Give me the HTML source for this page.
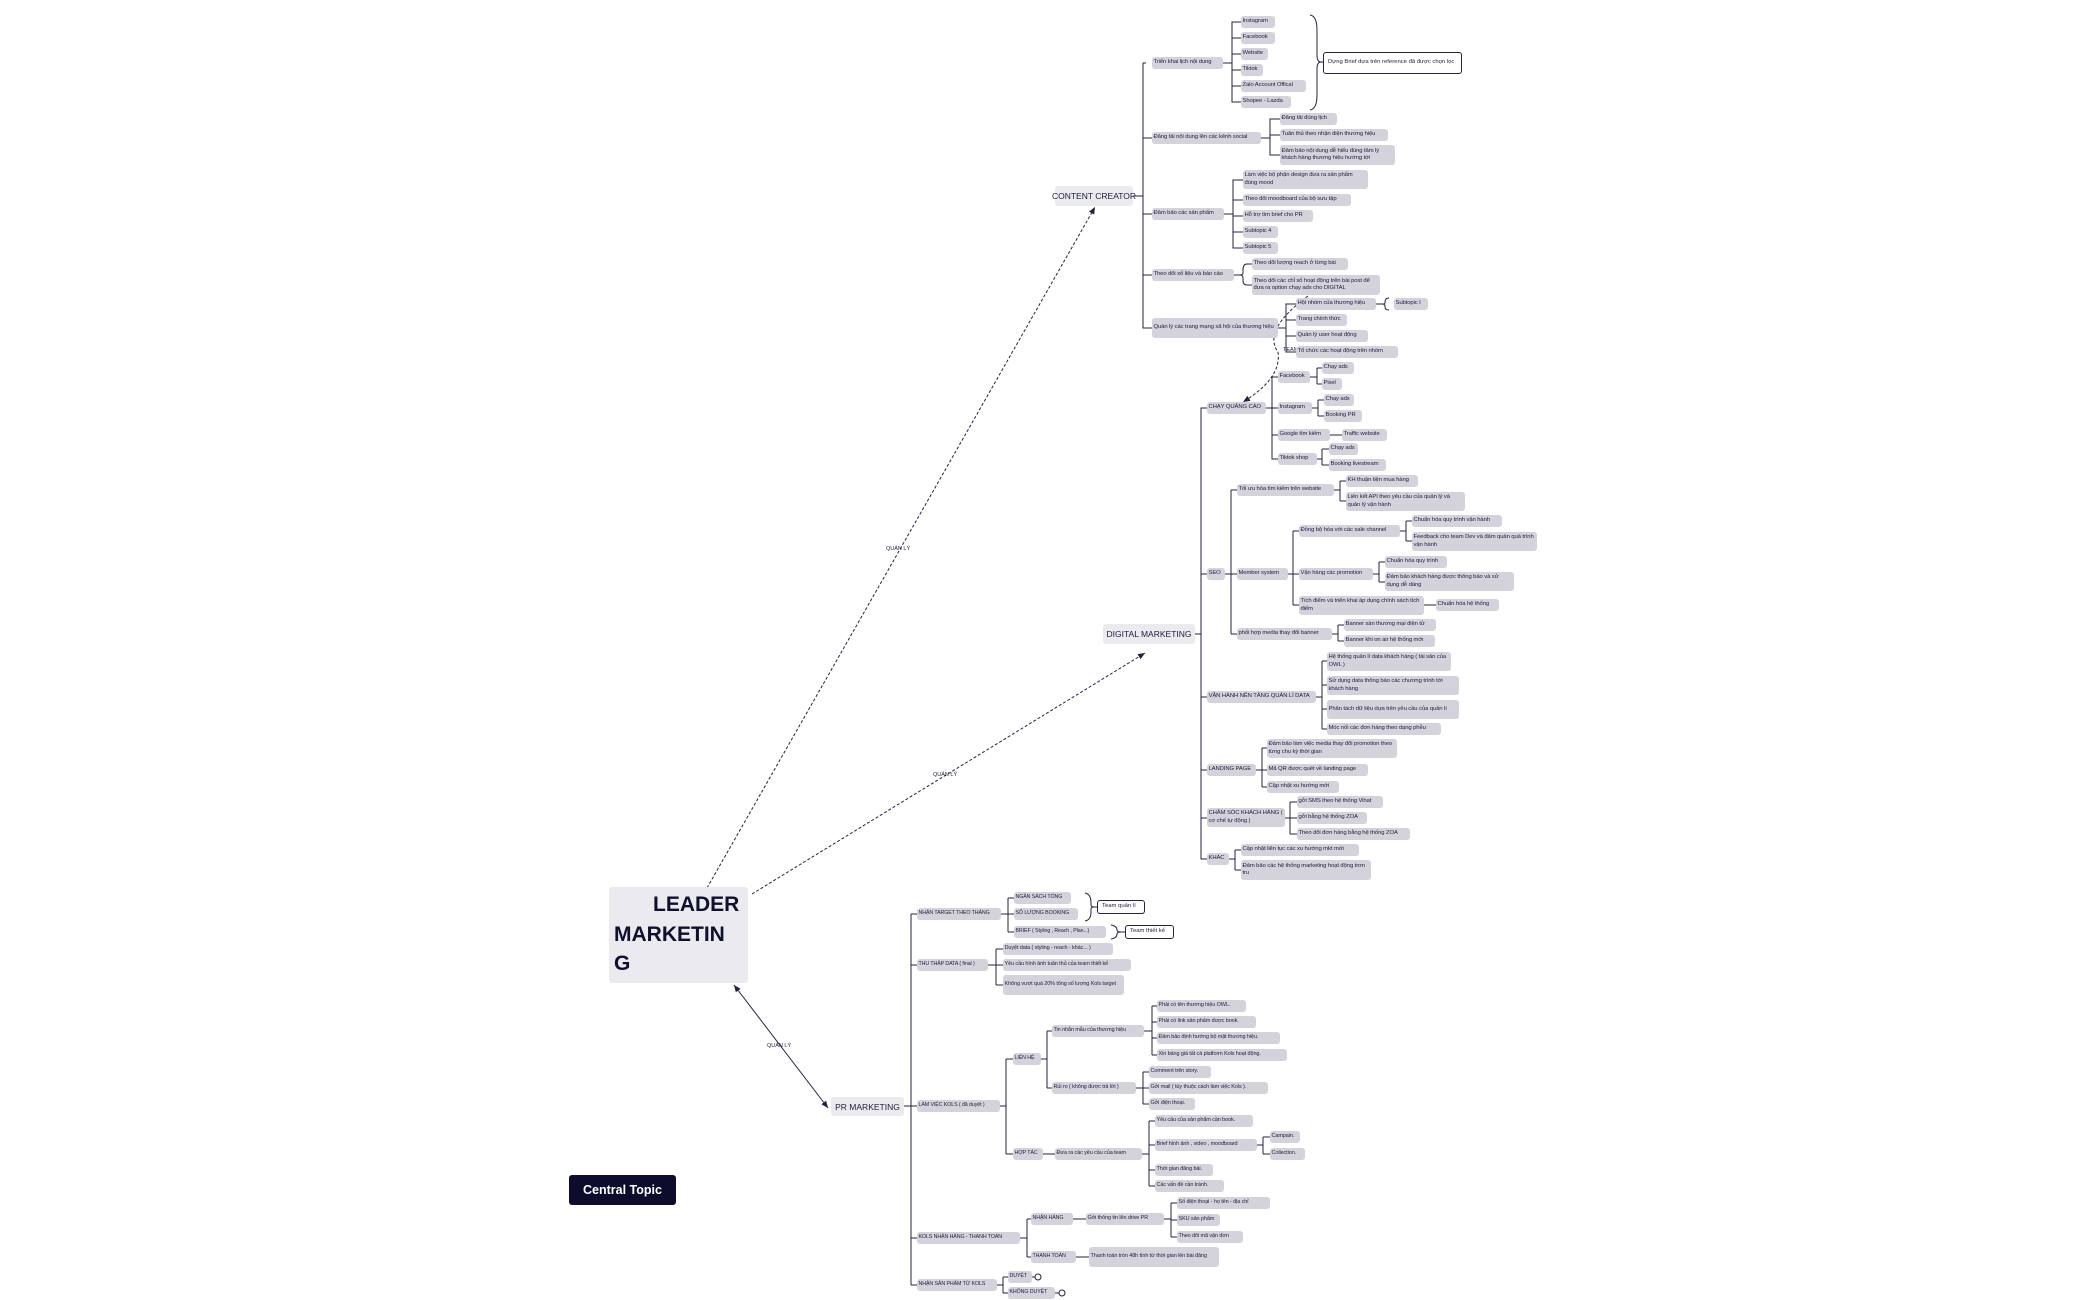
<!DOCTYPE html>
<html><head><meta charset="utf-8">
<style>
html,body{margin:0;padding:0;background:#fff;}
body{width:2100px;height:1300px;position:relative;overflow:hidden;font-family:"Liberation Sans","Noto Sans CJK SC",sans-serif;}
.n{position:absolute;background:#d4d3dc;border-radius:3px;font-size:5.9px;letter-spacing:-0.1px;line-height:7.5px;color:#1d1d3f;padding:0 1.5px;display:flex;align-items:center;white-space:nowrap;box-sizing:border-box;}
.w{white-space:normal;}
.b{position:absolute;background:#fff;border:1px solid #23233f;border-radius:3px;font-size:5.9px;line-height:7.5px;color:#1d1d3f;padding:0 4px;display:flex;align-items:center;box-sizing:border-box;}
.m{position:absolute;background:#ebeaee;border-radius:3px;font-size:8.5px;color:#1d1d3f;display:flex;align-items:center;justify-content:center;white-space:nowrap;}
.l{position:absolute;font-size:5.5px;color:#1d1d3f;white-space:nowrap;}
svg{position:absolute;left:0;top:0;}
</style></head><body>
<svg width="2100" height="1300" fill="none" stroke="#23233f" stroke-width="1">
<defs><marker id="ar" markerWidth="8" markerHeight="8" refX="7" refY="4" orient="auto-start-reverse"><path d="M0,1 L7,4 L0,7 z" fill="#23233f" stroke="none"/></marker></defs>
<path d="M707,888 L1095,207" stroke-dasharray="3,2" marker-end="url(#ar)"/>
<path d="M752,894 L1145,653" stroke-dasharray="3,2" marker-end="url(#ar)"/>
<path d="M734,985 L828,1108" marker-start="url(#ar)" marker-end="url(#ar)"/>
<path d="M1308,296 Q1262,330 1278,352 Q1282,378 1243,402" stroke-dasharray="3,2" marker-end="url(#ar)"/>
<path d="M1133,196H1143M1146,63H1143V328H1146M1143,138H1152M1143,214H1152M1143,275H1152M1143,328H1152"/>
<path d="M1223,63H1232M1235,22H1232V102H1235M1232,22H1241M1232,38H1241M1232,54H1241M1232,70H1241M1232,86H1241M1232,102H1241"/>
<path d="M1310,15 Q1317,16 1317,30 V55 Q1317,62 1321,62 Q1317,62 1317,69 V95 Q1317,109 1310,110 M1321,62H1323"/>
<path d="M1261,138H1270M1273,119H1270V155H1273M1270,119H1280M1270,135H1280M1270,155H1280"/>
<path d="M1224,214H1233M1236,180H1233V248H1236M1233,180H1243M1233,200H1243M1233,216H1243M1233,232H1243M1233,248H1243"/>
<path d="M1234,275H1240M1247,264Q1243,264 1243,270V273Q1243,275 1240,275Q1243,275 1243,278V281Q1243,285 1247,285M1247,264H1252M1247,285H1252"/>
<path d="M1278,328H1286M1289,304H1286V352H1289M1286,304H1296M1286,320H1296M1286,336H1296M1286,352H1296"/>
<path d="M1376,304H1382M1389,298Q1385,298 1385,302V303Q1385,304 1382,304Q1385,304 1385,306V307Q1385,310 1389,310"/>
<path d="M1195,634H1201M1204,408H1201V859H1204M1201,574H1207M1201,697H1207M1201,770H1207M1201,818H1207M1201,859H1207M1201,408H1207"/>
<path d="M1266,408H1272M1275,377H1272V459H1275M1272,377H1278M1272,408H1278M1272,435H1278M1272,459H1278"/>
<path d="M1310,377H1317M1317,368V384M1317,368H1322M1317,384H1322"/>
<path d="M1312,408H1318M1318,400V416M1318,400H1324M1318,416H1324"/>
<path d="M1330,435H1342"/>
<path d="M1317,459H1322M1322,449V465M1322,449H1329M1322,465H1329"/>
<path d="M1225,574H1231M1231,490V634M1231,490H1237M1231,574H1237M1231,634H1237"/>
<path d="M1334,490H1340M1340,481V501M1340,481H1346M1340,501H1346"/>
<path d="M1288,574H1293M1293,531V605M1293,531H1299M1293,574H1299M1293,605H1299"/>
<path d="M1400,531H1406M1406,521V541M1406,521H1412M1406,541H1412"/>
<path d="M1373,574H1379M1379,562V582M1379,562H1385M1379,582H1385"/>
<path d="M1424,605H1436"/>
<path d="M1332,634H1338M1338,625V641M1338,625H1344M1338,641H1344"/>
<path d="M1316,697H1322M1322,661V729M1322,661H1327M1322,685H1327M1322,709H1327M1322,729H1327"/>
<path d="M1256,770H1262M1262,748V787M1262,748H1267M1262,770H1267M1262,787H1267"/>
<path d="M1285,818H1290M1290,802V834M1290,802H1297M1290,818H1297M1290,834H1297"/>
<path d="M1229,859H1235M1235,850V870M1235,850H1241M1235,870H1241"/>
<path d="M904,1106H911M911,914V1285M911,914H917M911,965H917M911,1106H917M911,1238H917M911,1285H917"/>
<path d="M1001,914H1008M1008,898V932M1008,898H1014M1008,914H1014M1008,932H1014"/>
<path d="M1085,893Q1091,894 1091,903V905Q1091,907 1094,907Q1091,907 1091,909V912Q1091,920 1085,921M1094,907H1097"/>
<path d="M1111,925Q1117,926 1117,930Q1117,932 1121,932Q1117,932 1117,934Q1117,938 1111,939M1121,932H1125"/>
<path d="M988,965H996M996,949V985M996,949H1003M996,965H1003M996,985H1003"/>
<path d="M1000,1106H1006M1006,1059V1154M1006,1059H1013M1006,1154H1013"/>
<path d="M1041,1059H1047M1047,1031V1088M1047,1031H1052M1047,1088H1052"/>
<path d="M1144,1031H1152M1152,1006V1055M1152,1006H1157M1152,1022H1157M1152,1038H1157M1152,1055H1157"/>
<path d="M1136,1088H1143M1143,1072V1104M1143,1072H1149M1143,1088H1149M1143,1104H1149"/>
<path d="M1043,1154H1055M1142,1154H1149M1149,1121V1186M1149,1121H1155M1149,1145H1155M1149,1170H1155M1149,1186H1155"/>
<path d="M1257,1145H1263M1263,1137V1154M1263,1137H1270M1263,1154H1270"/>
<path d="M1020,1238H1027M1027,1219V1257M1027,1219H1031M1027,1257H1031"/>
<path d="M1073,1219H1086M1164,1219H1171M1171,1203V1237M1171,1203H1177M1171,1220H1177M1171,1237H1177"/>
<path d="M1076,1257H1089"/>
<path d="M997,1285H1003M1003,1277V1293M1003,1277H1008M1003,1293H1008"/>
<path d="M1032,1277H1035M1055,1293H1059"/>
<circle cx="1038" cy="1277" r="3"/><circle cx="1062" cy="1293" r="3"/>
</svg>

<div style="position:absolute;left:609px;top:887px;width:139px;height:96px;background:#ebeaee;border-radius:3px;"></div>
<div style="position:absolute;left:653px;top:894px;font:bold 21px/1 'Liberation Sans',sans-serif;color:#0f0f2e;">LEADER</div>
<div style="position:absolute;left:614px;top:924px;font:bold 21px/1 'Liberation Sans',sans-serif;color:#0f0f2e;">MARKETIN</div>
<div style="position:absolute;left:614px;top:953px;font:bold 21px/1 'Liberation Sans',sans-serif;color:#0f0f2e;">G</div>
<div style="position:absolute;left:569px;top:1175px;width:107px;height:30px;background:#0c0c2c;border-radius:3px;color:#fff;font:bold 12.5px/30px 'Liberation Sans',sans-serif;text-align:center;">Central Topic</div>
<div class="l" style="left:886px;top:546px">QUẢN LÝ</div>
<div class="l" style="left:933px;top:772px">QUẢN LÝ</div>
<div class="l" style="left:767px;top:1043px">QUẢN LÝ</div>
<div class="l" style="left:1283px;top:347px">TEAMWORK</div>

<div class="m" style="left:1055px;top:186px;width:78px;height:20px">CONTENT CREATOR</div>
<div class="n" style="left:1152px;top:57px;width:71px;height:12px">Triển khai lịch nội dung</div>
<div class="n" style="left:1152px;top:132px;width:109px;height:12px">Đăng tải nội dung lên các kênh social</div>
<div class="n" style="left:1152px;top:208px;width:72px;height:12px">Đảm bảo các sản phẩm</div>
<div class="n" style="left:1152px;top:269px;width:82px;height:12px">Theo dõi số liệu và báo cáo</div>
<div class="n w" style="left:1152px;top:318px;width:126px;height:20px">Quản lý các trang mạng xã hội của thương hiệu</div>
<div class="n" style="left:1241px;top:16px;width:34px;height:12px">Instagram</div>
<div class="n" style="left:1241px;top:32px;width:34px;height:12px">Facebook</div>
<div class="n" style="left:1241px;top:48px;width:27px;height:12px">Website</div>
<div class="n" style="left:1241px;top:64px;width:22px;height:12px">Tiktok</div>
<div class="n" style="left:1241px;top:80px;width:65px;height:12px">Zalo Account Offical</div>
<div class="n" style="left:1241px;top:96px;width:50px;height:12px">Shopee - Lazda</div>
<div class="b w" style="left:1323px;top:52px;width:139px;height:22px">Dựng Brief dựa trên reference đã được chọn lọc</div>
<div class="n" style="left:1280px;top:113px;width:57px;height:12px">Đăng tải đúng lịch</div>
<div class="n" style="left:1280px;top:129px;width:108px;height:12px">Tuân thủ theo nhận diện thương hiệu</div>
<div class="n w" style="left:1280px;top:145px;width:115px;height:20px">Đảm bảo nội dung dễ hiểu đúng tâm lý khách hàng thương hiệu hướng tới</div>
<div class="n w" style="left:1243px;top:170px;width:125px;height:19px">Làm việc bộ phận design đưa ra sản phẩm đúng mood</div>
<div class="n" style="left:1243px;top:194px;width:108px;height:12px">Theo dõi moodboard của bộ sưu tập</div>
<div class="n" style="left:1243px;top:210px;width:70px;height:12px">Hỗ trợ tìm brief cho PR</div>
<div class="n" style="left:1243px;top:226px;width:35px;height:12px">Subtopic 4</div>
<div class="n" style="left:1243px;top:242px;width:35px;height:12px">Subtopic 5</div>
<div class="n" style="left:1252px;top:258px;width:96px;height:12px">Theo dõi lượng reach ở từng bài</div>
<div class="n w" style="left:1252px;top:275px;width:128px;height:20px">Theo dõi các chỉ số hoạt động trên bài post để đưa ra option chạy ads cho DIGITAL</div>
<div class="n" style="left:1296px;top:298px;width:80px;height:12px">Hội nhóm của thương hiệu</div>
<div class="n" style="left:1394px;top:298px;width:34px;height:12px">Subtopic I</div>
<div class="n" style="left:1296px;top:314px;width:51px;height:12px">Trang chính thức</div>
<div class="n" style="left:1296px;top:330px;width:72px;height:12px">Quản lý user hoạt động</div>
<div class="n" style="left:1296px;top:346px;width:102px;height:12px">Tổ chức các hoạt động trên nhóm</div>

<div class="m" style="left:1103px;top:624px;width:92px;height:20px">DIGITAL MARKETING</div>
<div class="n" style="left:1207px;top:402px;width:59px;height:12px">CHẠY QUẢNG CÁO</div>
<div class="n" style="left:1207px;top:568px;width:18px;height:12px">SEO</div>
<div class="n" style="left:1207px;top:691px;width:109px;height:12px">VẬN HÀNH NỀN TẢNG QUẢN LÍ DATA</div>
<div class="n" style="left:1207px;top:764px;width:49px;height:12px">LANDING PAGE</div>
<div class="n w" style="left:1207px;top:808px;width:78px;height:19px">CHĂM SÓC KHÁCH HÀNG ( cơ chế tự động )</div>
<div class="n" style="left:1207px;top:853px;width:22px;height:12px">KHÁC</div>
<div class="n" style="left:1278px;top:371px;width:32px;height:12px">Facebook</div>
<div class="n" style="left:1278px;top:402px;width:34px;height:12px">Instagram</div>
<div class="n" style="left:1278px;top:429px;width:52px;height:12px">Google tìm kiếm</div>
<div class="n" style="left:1278px;top:453px;width:39px;height:12px">Tiktok shop</div>
<div class="n" style="left:1322px;top:362px;width:32px;height:12px">Chạy ads</div>
<div class="n" style="left:1322px;top:378px;width:20px;height:12px">Pixel</div>
<div class="n" style="left:1324px;top:394px;width:30px;height:12px">Chạy ads</div>
<div class="n" style="left:1324px;top:410px;width:38px;height:12px">Booking PR</div>
<div class="n" style="left:1342px;top:429px;width:45px;height:12px">Traffic website</div>
<div class="n" style="left:1329px;top:443px;width:29px;height:12px">Chạy ads</div>
<div class="n" style="left:1329px;top:459px;width:57px;height:12px">Booking livestream</div>
<div class="n" style="left:1237px;top:484px;width:97px;height:12px">Tối ưu hóa tìm kiếm trên website</div>
<div class="n" style="left:1237px;top:568px;width:51px;height:12px">Member system</div>
<div class="n" style="left:1237px;top:628px;width:95px;height:12px">phối hợp media thay đổi banner</div>
<div class="n" style="left:1346px;top:475px;width:72px;height:12px">KH thuận tiện mua hàng</div>
<div class="n w" style="left:1346px;top:492px;width:119px;height:19px">Liên kết API theo yêu cầu của quản lý và quản lý vận hành</div>
<div class="n" style="left:1299px;top:525px;width:101px;height:12px">Đồng bộ hóa với các sale channel</div>
<div class="n" style="left:1299px;top:568px;width:74px;height:12px">Vận hàng các promotion</div>
<div class="n w" style="left:1299px;top:596px;width:125px;height:19px">Tích điểm và triển khai áp dụng chính sách tích điểm</div>
<div class="n" style="left:1412px;top:515px;width:90px;height:12px">Chuẩn hóa quy trình vận hành</div>
<div class="n w" style="left:1412px;top:532px;width:125px;height:19px">Feedback cho team Dev và đảm quản quá trình vận hành</div>
<div class="n" style="left:1385px;top:556px;width:62px;height:12px">Chuẩn hóa quy trình</div>
<div class="n w" style="left:1385px;top:572px;width:129px;height:19px">Đảm bảo khách hàng được thông báo và sử dụng dễ dàng</div>
<div class="n" style="left:1436px;top:599px;width:63px;height:12px">Chuẩn hóa hệ thống</div>
<div class="n" style="left:1344px;top:619px;width:92px;height:12px">Banner sàn thương mại điện tử</div>
<div class="n" style="left:1344px;top:635px;width:91px;height:12px">Banner khi on air hệ thống mới</div>
<div class="n w" style="left:1327px;top:652px;width:124px;height:19px">Hệ thống quản lí data khách hàng ( tài sản của OWL )</div>
<div class="n w" style="left:1327px;top:676px;width:132px;height:19px">Sử dụng data thông báo các chương trình tới khách hàng</div>
<div class="n w" style="left:1327px;top:700px;width:132px;height:19px">Phân tách dữ liệu dựa trên yêu cầu của quản lí</div>
<div class="n" style="left:1327px;top:723px;width:114px;height:12px">Móc nối các đơn hàng theo dạng phễu</div>
<div class="n w" style="left:1267px;top:739px;width:130px;height:19px">Đảm bảo làm việc media thay đổi promotion theo từng chu kỳ thời gian</div>
<div class="n" style="left:1267px;top:764px;width:101px;height:12px">Mã QR được quét về landing page</div>
<div class="n" style="left:1267px;top:781px;width:72px;height:12px">Cập nhật xu hướng mới</div>
<div class="n" style="left:1297px;top:796px;width:86px;height:12px">gởi SMS theo hệ thống Vihat</div>
<div class="n" style="left:1297px;top:812px;width:70px;height:12px">gởi bằng hệ thống ZOA</div>
<div class="n" style="left:1297px;top:828px;width:113px;height:12px">Theo dõi đơn hàng bằng hệ thống ZOA</div>
<div class="n" style="left:1241px;top:844px;width:118px;height:12px">Cập nhật liên tục các xu hướng mkt mới</div>
<div class="n w" style="left:1241px;top:860px;width:130px;height:20px">Đảm bảo các hệ thống marketing hoạt động trơn tru</div>

<div class="m" style="left:831px;top:1097px;width:73px;height:19px">PR MARKETING</div>
<div class="n" style="left:917px;top:908px;width:84px;height:12px;font-size:5.3px">NHẬN TARGET THEO THÁNG</div>
<div class="n" style="left:917px;top:959px;width:71px;height:12px;font-size:5.3px">THU THẬP DATA ( final )</div>
<div class="n" style="left:917px;top:1100px;width:83px;height:12px;font-size:5.3px">LÀM VIỆC KOLS ( đã duyệt )</div>
<div class="n" style="left:917px;top:1232px;width:103px;height:12px;font-size:5.3px">KOLS NHẬN HÀNG - THANH TOÁN</div>
<div class="n" style="left:917px;top:1279px;width:80px;height:12px;font-size:5.3px">NHẬN SẢN PHẨM TỪ KOLS</div>
<div class="n" style="left:1014px;top:892px;width:57px;height:12px;font-size:5.3px">NGÂN SÁCH TỔNG</div>
<div class="n" style="left:1014px;top:908px;width:64px;height:12px;font-size:5.3px">SỐ LƯỢNG BOOKING</div>
<div class="n" style="left:1014px;top:926px;width:92px;height:12px;font-size:5.3px">BRIEF ( Styling , Reach , Plan...)</div>
<div class="b" style="left:1097px;top:900px;width:48px;height:14px">Team quản lí</div>
<div class="b" style="left:1125px;top:925px;width:49px;height:14px">Team thiết kế</div>
<div class="n" style="left:1003px;top:943px;width:110px;height:12px;font-size:5.5px">Duyệt data ( styling - reach - khác... )</div>
<div class="n" style="left:1003px;top:959px;width:128px;height:12px;font-size:5.5px">Yêu cầu hình ảnh tuân thủ của team thiết kế</div>
<div class="n w" style="left:1003px;top:975px;width:121px;height:20px;font-size:5.5px">Không vượt quá 20% tổng số lượng Kols target</div>
<div class="n" style="left:1013px;top:1053px;width:28px;height:12px;font-size:5.3px">LIÊN HỆ</div>
<div class="n" style="left:1013px;top:1148px;width:30px;height:12px;font-size:5.3px">HỢP TÁC</div>
<div class="n" style="left:1052px;top:1025px;width:92px;height:12px;font-size:5.5px">Tin nhắn mẫu của thương hiệu</div>
<div class="n" style="left:1052px;top:1082px;width:84px;height:12px;font-size:5.5px">Rủi ro ( không được trả lời )</div>
<div class="n" style="left:1157px;top:1000px;width:89px;height:12px;font-size:5.5px">Phải có tên thương hiệu OWL.</div>
<div class="n" style="left:1157px;top:1016px;width:99px;height:12px;font-size:5.5px">Phải có link sản phẩm được book.</div>
<div class="n" style="left:1157px;top:1032px;width:123px;height:12px;font-size:5.5px">Đảm bảo định hướng bộ mặt thương hiệu.</div>
<div class="n" style="left:1157px;top:1049px;width:130px;height:12px;font-size:5.5px">Xin báng giá tất cả platform Kols hoạt động.</div>
<div class="n" style="left:1149px;top:1066px;width:62px;height:12px;font-size:5.5px">Comment trên story.</div>
<div class="n" style="left:1149px;top:1082px;width:119px;height:12px;font-size:5.5px">Gởi mail ( tùy thuộc cách làm việc Kols ).</div>
<div class="n" style="left:1149px;top:1098px;width:46px;height:12px;font-size:5.5px">Gởi điện thoại.</div>
<div class="n" style="left:1055px;top:1148px;width:87px;height:12px;font-size:5.5px">Đưa ra các yêu cầu của team</div>
<div class="n" style="left:1155px;top:1115px;width:98px;height:12px;font-size:5.5px">Yêu cầu của sản phẩm cần book.</div>
<div class="n" style="left:1155px;top:1139px;width:102px;height:12px;font-size:5.5px">Brief hình ảnh , video , moodboard</div>
<div class="n" style="left:1155px;top:1164px;width:58px;height:12px;font-size:5.5px">Thời gian đăng bài.</div>
<div class="n" style="left:1155px;top:1180px;width:69px;height:12px;font-size:5.5px">Các vấn đề cần tránh.</div>
<div class="n" style="left:1270px;top:1131px;width:30px;height:12px;font-size:5.5px">Campain.</div>
<div class="n" style="left:1270px;top:1148px;width:35px;height:12px;font-size:5.5px">Collection.</div>
<div class="n" style="left:1031px;top:1213px;width:42px;height:12px;font-size:5.3px">NHẬN HÀNG</div>
<div class="n" style="left:1031px;top:1251px;width:45px;height:12px;font-size:5.3px">THANH TOÁN</div>
<div class="n" style="left:1086px;top:1213px;width:78px;height:12px;font-size:5.5px">Gởi thông tin lên drive PR</div>
<div class="n" style="left:1177px;top:1197px;width:93px;height:12px;font-size:5.5px">Số điện thoại - họ tên - địa chỉ</div>
<div class="n" style="left:1177px;top:1214px;width:43px;height:12px;font-size:5.5px">SKU sản phẩm</div>
<div class="n" style="left:1177px;top:1231px;width:66px;height:12px;font-size:5.5px">Theo dõi mã vận đơn</div>
<div class="n w" style="left:1089px;top:1247px;width:130px;height:20px;font-size:5.5px">Thanh toán tròn 48h tính từ thời gian lên bài đăng</div>
<div class="n" style="left:1008px;top:1271px;width:24px;height:12px;font-size:5.3px">DUYỆT</div>
<div class="n" style="left:1008px;top:1287px;width:47px;height:12px;font-size:5.3px">KHÔNG DUYỆT</div>
</body></html>
